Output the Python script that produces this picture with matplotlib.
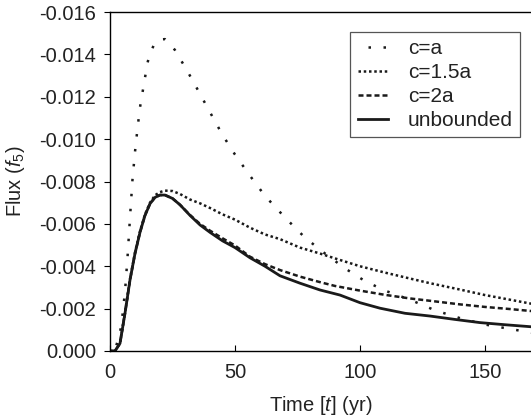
import matplotlib
matplotlib.use("Agg")
import matplotlib.pyplot as plt

# Flux readings (values in units of 1e-3, plotted as negative flux)
t_ca = [0, 2, 4, 5, 6, 7, 8, 9, 10, 11, 12, 13, 14, 15, 16, 18, 20, 22, 24, 26, 28, 31,
        35, 40, 45, 50, 56, 62, 70, 78, 86, 94, 102, 110, 120, 130, 140, 150, 160, 170]
flux_ca = [0, 0.05, 0.85, 1.7, 2.8, 4.4, 6.3, 8.1, 9.4, 10.5, 11.5, 12.2, 12.9, 13.6, 14.05,
           14.55, 14.7, 14.72, 14.5, 14.2, 13.8, 13.2, 12.35, 11.27, 10.2, 9.27, 8.27, 7.32,
           6.3, 5.35, 4.6, 3.9, 3.3, 2.85, 2.42, 1.92, 1.55, 1.25, 1.04, 0.84]

t_c15 = [0, 2, 4, 6, 8, 10, 12, 14, 16, 18, 20, 22, 25, 28, 32, 36, 40, 45, 50, 56, 62,
         68, 76, 84, 90, 100, 110, 120, 128, 140, 150, 160, 170]
flux_c15 = [0, 0, 0.38, 1.82, 3.4, 4.65, 5.65, 6.45, 7.0, 7.35, 7.5, 7.57, 7.55, 7.41, 7.15,
            6.97, 6.75, 6.45, 6.2, 5.82, 5.5, 5.28, 4.88, 4.6, 4.37, 4.0, 3.7, 3.42, 3.2,
            2.9, 2.64, 2.42, 2.2]

t_c2 = [0, 2, 4, 6, 8, 10, 12, 14, 16, 18, 20, 22, 25, 28, 32, 36, 40, 45, 50, 56, 62,
        68, 76, 84, 90, 100, 110, 120, 128, 140, 150, 160, 170]
flux_c2 = [0, 0, 0.36, 1.78, 3.35, 4.6, 5.6, 6.4, 6.95, 7.25, 7.36, 7.36, 7.2, 6.9, 6.42,
           6.0, 5.68, 5.32, 4.98, 4.45, 4.1, 3.82, 3.51, 3.25, 3.07, 2.85, 2.65, 2.48, 2.37,
           2.2, 2.08, 1.98, 1.87]

t_unb = [0, 2, 4, 6, 8, 10, 12, 14, 16, 18, 20, 22, 25, 28, 32, 36, 40, 45, 50, 56, 62,
         68, 76, 84, 92, 100, 108, 118, 128, 138, 148, 158, 170]
flux_unb = [0, 0, 0.36, 1.78, 3.35, 4.6, 5.6, 6.4, 6.95, 7.25, 7.36, 7.36, 7.2, 6.9, 6.4,
            5.95, 5.6, 5.2, 4.88, 4.4, 4.0, 3.55, 3.2, 2.88, 2.64, 2.28, 2.02, 1.78, 1.65,
            1.49, 1.34, 1.24, 1.13]

x_ticks = [0, 50, 100, 150]
y_ticks = [0.000, -0.002, -0.004, -0.006, -0.008, -0.010, -0.012, -0.014, -0.016]

plt.rcParams['font.family'] = ['Liberation Sans', 'DejaVu Sans']
plt.rcParams['axes.unicode_minus'] = False
plt.rcParams['mathtext.fontset'] = 'custom'
plt.rcParams['mathtext.rm'] = 'Liberation Sans'
plt.rcParams['mathtext.it'] = 'Liberation Sans:italic'

fig = plt.figure(figsize=(5.31, 4.18), dpi=100)
ax = fig.add_axes([110 / 531, 1 - 351 / 418, 421 / 531, 339 / 418])

def neg(vals):
    return [-v * 1e-3 for v in vals]

ax.plot(t_ca, neg(flux_ca), color='#1a1a1a', lw=1.8, ls=(2, (1, 5)),
        dash_capstyle='butt', label='c=a')
ax.plot(t_c15, neg(flux_c15), color='#1a1a1a', lw=1.8, ls=(0, (1, 1.1)),
        dash_capstyle='butt', label='c=1.5a')
ax.plot(t_c2, neg(flux_c2), color='#1a1a1a', lw=1.8, ls=(0, (2, 1.2)),
        dash_capstyle='butt', label='c=2a')
ax.plot(t_unb, neg(flux_unb), color='#1a1a1a', lw=2.0, ls='-', label='unbounded')

ax.set_xlim(0, 168.4)
ax.set_ylim(0, -0.016)
ax.set_xticks(x_ticks)
ax.set_yticks(y_ticks)
ax.set_yticklabels(['%.3f' % v for v in y_ticks])
ax.tick_params(axis='x', direction='in', length=4, labelsize=14.5, pad=9, width=0.8,
               labelcolor='#222222')
ax.tick_params(axis='y', direction='out', length=4, labelsize=14.5, pad=6, width=0.8,
               labelcolor='#222222')
ax.spines['right'].set_visible(False)
for s in ['left', 'bottom', 'top']:
    ax.spines[s].set_linewidth(1.0)

ax.set_xlabel('Time [$t$] (yr)', fontsize=14.5, color='#222222')
ax.xaxis.set_label_coords(0.5, -0.127)
ax.set_ylabel('Flux ($f_5$)', fontsize=14.5, color='#222222')
ax.yaxis.label.set_verticalalignment('center')
ax.yaxis.set_label_coords(-0.224, 0.5)

leg = ax.legend(loc='upper right', bbox_to_anchor=(0.974, 0.942), borderaxespad=0,
                fontsize=15, fancybox=False, handlelength=1.45, handletextpad=0.95,
                labelspacing=0.24, borderpad=0.35, framealpha=1)
leg.get_frame().set_edgecolor('#555555')
leg.get_frame().set_linewidth(0.9)
for txt in leg.get_texts():
    txt.set_color('#222222')

fig.savefig('out.png', dpi=100)
